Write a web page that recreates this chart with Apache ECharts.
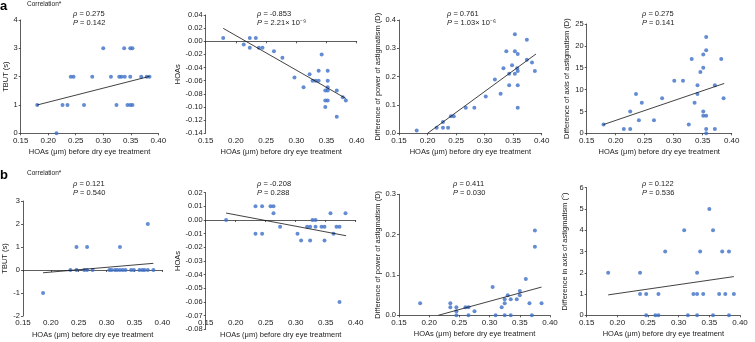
<!DOCTYPE html>
<html>
<head>
<meta charset="utf-8">
<script src="https://cdn.jsdelivr.net/npm/echarts@6/dist/echarts.min.js"></script>
<style>
  html, body { margin: 0; padding: 0; background: #fff; }
  #chart { width: 755px; height: 342px; }
</style>
</head>
<body>
<div id="chart"></div>
<script>
// values: [HOAs before treatment, change]
const aTbut = [[0.18,1],[0.215,0],[0.226,1],[0.235,1],[0.241,2],[0.246,2],[0.265,1],[0.28,2],[0.30,3],[0.314,2],
  [0.324,1],[0.329,2],[0.333,2],[0.338,3],[0.339,2],[0.344,1],[0.349,3],[0.349,2],[0.349,1],[0.353,3],[0.353,1],
  [0.369,2],[0.379,2],[0.384,2]];
const aHoas = [[0.179,0.005],[0.213,-0.005],[0.223,0.005],[0.223,-0.01],[0.233,0.005],[0.238,-0.01],[0.244,-0.01],
  [0.263,-0.015],[0.277,-0.025],[0.297,-0.055],[0.312,-0.07],[0.322,-0.05],[0.327,-0.06],[0.332,-0.06],[0.337,-0.06],
  [0.337,-0.045],[0.342,-0.02],[0.348,-0.075],[0.348,-0.09],[0.348,-0.10],[0.352,-0.045],[0.352,-0.06],[0.352,-0.07],
  [0.352,-0.075],[0.352,-0.09],[0.367,-0.075],[0.367,-0.115],[0.377,-0.085],[0.382,-0.09]];
const aPower = [[0.181,0.01],[0.216,0.02],[0.227,0.04],[0.227,0.02],[0.236,0.02],[0.241,0.06],[0.246,0.06],[0.267,0.09],
  [0.282,0.09],[0.302,0.13],[0.318,0.19],[0.328,0.14],[0.333,0.23],[0.338,0.29],[0.343,0.17],[0.343,0.21],[0.348,0.24],
  [0.353,0.35],[0.353,0.29],[0.353,0.21],[0.357,0.23],[0.358,0.28],[0.358,0.22],[0.358,0.17],[0.358,0.09],[0.374,0.33],
  [0.374,0.26],[0.383,0.25],[0.388,0.22]];
const aAxis = [[0.179,2],[0.214,1],[0.225,1],[0.225,5],[0.235,9],[0.24,3],[0.245,7],[0.266,3],[0.28,8],[0.301,12],
  [0.316,12],[0.326,2],[0.331,17],[0.336,7],[0.341,11],[0.341,9],[0.346,14],[0.351,18],[0.351,15],[0.351,5],[0.351,4],
  [0.356,22],[0.356,19],[0.356,4],[0.356,1],[0.356,0],[0.371,11],[0.371,1],[0.382,17],[0.386,8]];
const bTbut = [[0.186,-1],[0.235,0],[0.246,1],[0.246,0],[0.26,0],[0.265,0],[0.265,1],[0.275,0],[0.305,0],[0.309,0],
  [0.315,0],[0.319,0],[0.324,0],[0.324,1],[0.329,0],[0.334,0],[0.344,0],[0.349,0],[0.359,0],[0.364,0],[0.368,0],
  [0.374,0],[0.374,2],[0.384,0]];
const bHoas = [[0.184,0],[0.233,0.01],[0.233,-0.01],[0.244,0.01],[0.244,-0.01],[0.258,0.01],[0.263,0.01],[0.263,0.005],
  [0.274,-0.005],[0.303,-0.01],[0.309,-0.015],[0.319,-0.005],[0.324,-0.005],[0.324,-0.015],[0.328,0],[0.333,0],
  [0.333,-0.005],[0.343,-0.005],[0.348,-0.005],[0.348,-0.015],[0.358,0.005],[0.363,-0.01],[0.368,-0.005],
  [0.373,-0.005],[0.373,-0.06],[0.383,0.005]];
const bPower = [[0.185,0.03],[0.235,0.03],[0.235,0.02],[0.245,0.02],[0.245,0.01],[0.245,0],[0.26,0.02],[0.265,0.02],
  [0.265,0],[0.275,0.01],[0.305,0.07],[0.31,0],[0.32,0.02],[0.325,0.04],[0.325,0.03],[0.325,0],[0.33,0.05],[0.335,0.04],
  [0.335,0],[0.345,0.04],[0.35,0.05],[0.35,0.06],[0.36,0.09],[0.366,0.03],[0.37,0],[0.375,0.21],[0.375,0.17],[0.386,0.03]];
const bAxis = [[0.185,2],[0.237,2],[0.237,1],[0.247,1],[0.247,0],[0.262,0],[0.267,1],[0.267,0],[0.278,3],[0.309,4],
  [0.315,0],[0.324,1],[0.33,1],[0.33,2],[0.33,0],[0.335,3],[0.34,1],[0.35,5],[0.356,4],[0.356,0],[0.366,1],[0.371,3],
  [0.376,1],[0.382,3],[0.382,0],[0.39,1]];

// fitted lines (end points)
const aTbutFit = [[0.18,1.0],[0.384,2.01]];
const aHoasFit = [[0.179,0.0197],[0.382,-0.087]];
const aPowerFit = [[0.2,0],[0.39,0.28]];
const aAxisFit = [[0.179,2.0],[0.387,11.4]];
const bTbutFit = [[0.186,-0.12],[0.384,0.29]];
const bHoasFit = [[0.184,0.0051],[0.384,-0.0115]];
const bPowerFit = [[0.215,0],[0.386,0.07]];
const bAxisFit = [[0.185,0.96],[0.39,1.82]];

const rhoValues = ['0.275', '-0.853', '0.761', '0.275', '0.121', '-0.208', '0.411', '0.122'];
const pValues = ['0.142', '2.21\u00d7 10\u207b\u2079', '1.03\u00d7 10\u207b\u2076', '0.141', '0.540', '0.288', '0.030', '0.536'];
const yNames = ['TBUT (s)', 'HOAs', 'Difference of power of astigmatism (D)', 'Difference of axis of astigmatism (D)',
  'TBUT (s)', 'HOAs', 'Difference of power of astigmatism (D)', 'Difference in axis of astigmatism (\u00b0)'];
// [min, max, interval, decimals]
const yTicks = [[0,4,1,0],[-0.14,0.04,0.02,2],[0,0.4,0.1,1],[0,25,5,0],[-2,3,1,0],[-0.08,0.02,0.01,2],[0,0.3,0.1,1],[0,6,1,0]];
const xName = 'HOAs (\u03bcm) before dry eye treatment';

const scatterData = [aTbut, aHoas, aPower, aAxis, bTbut, bHoas, bPower, bAxis];
const fitData = [aTbutFit, aHoasFit, aPowerFit, aAxisFit, bTbutFit, bHoasFit, bPowerFit, bAxisFit];

// layout: [left, top, right, bottom] of each plot in px, y-name gap, stat text x/y
const boxes = [
  [20.7, 20, 158.3, 133.3], [205.7, 15, 356.7, 133.3], [399, 20, 541.7, 133.3], [586.7, 24, 731.7, 133.3],
  [20.7, 201, 162.3, 316], [205.7, 192.7, 355.7, 329.3], [399, 194.3, 550, 315.3], [586.7, 187.7, 740, 315.3]
];
const nameGaps = [11, 24, 13, 16, 14, 24, 15, 18];
const statPos = [[73, 9], [257, 9], [447, 9], [642, 9], [73, 179], [257, 179], [453, 179], [642, 179]];

const FONT = 'Liberation Sans, Arial, sans-serif';
const TXT = '#222';
const DOT = '#3d6fc7';

const chart = echarts.init(document.getElementById('chart'));

const grids = [], xAxes = [], yAxes = [], series = [], graphics = [];
boxes.forEach((b, i) => {
  grids.push({ left: b[0], top: b[1], width: b[2] - b[0], height: b[3] - b[1], containLabel: false });
  const axisLine = { lineStyle: { color: '#333', width: 0.8 } };
  const axisTick = { length: 2, lineStyle: { color: '#333', width: 0.8 } };
  xAxes.push({
    gridIndex: i, type: 'value', min: 0.15, max: 0.40, interval: 0.05,
    offset: i === 5 ? -13.6 : 0,
    axisLine, axisTick, splitLine: { show: false },
    axisLabel: { fontSize: 8, color: TXT, fontFamily: FONT, margin: 3, formatter: v => v.toFixed(2) },
    name: xName, nameLocation: 'middle', nameGap: 15,
    nameTextStyle: { fontSize: 7.5, color: TXT, fontFamily: FONT }
  });
  const t = yTicks[i];
  yAxes.push({
    gridIndex: i, type: 'value', min: t[0], max: t[1], interval: t[2],
    axisLine: { show: true, ...axisLine }, axisTick, splitLine: { show: false },
    axisLabel: { fontSize: 7.5, color: TXT, fontFamily: FONT, margin: 3, formatter: v => v.toFixed(t[3]) },
    name: yNames[i], nameLocation: 'middle', nameGap: nameGaps[i],
    nameTextStyle: { fontSize: 7.5, color: TXT, fontFamily: FONT }
  });
  series.push({
    type: 'scatter', xAxisIndex: i, yAxisIndex: i, data: scatterData[i],
    symbolSize: 4, itemStyle: { color: DOT }, z: 3
  });
  series.push({
    type: 'line', xAxisIndex: i, yAxisIndex: i, data: fitData[i], symbol: 'none',
    lineStyle: { color: '#111', width: 0.8 }, z: 4
  });
  graphics.push({
    type: 'text', left: statPos[i][0], top: statPos[i][1],
    style: {
      text: '{i|\u03c1} = ' + rhoValues[i] + '\n{i|P} = ' + pValues[i],
      fontSize: 7.5, fontFamily: FONT, fill: TXT, lineHeight: 9.5,
      rich: { i: { fontStyle: 'italic', fontSize: 7.5, fontFamily: FONT, fill: TXT } }
    }
  });
});

['a', 'b'].forEach((lab, r) => {
  graphics.push({
    type: 'text', left: 0, top: r === 0 ? 0 : 169,
    style: { text: lab, fontSize: 13, fontWeight: 'bold', fontFamily: FONT, fill: '#000' }
  });
  graphics.push({
    type: 'text', left: 27, top: r === 0 ? 1 : 170,
    style: { text: 'Correlation*', fontSize: 6.5, fontFamily: FONT, fill: TXT }
  });
});

chart.setOption({
  animation: false,
  backgroundColor: '#fff',
  grid: grids,
  xAxis: xAxes,
  yAxis: yAxes,
  series: series,
  graphic: graphics
});
</script>
</body>
</html>
